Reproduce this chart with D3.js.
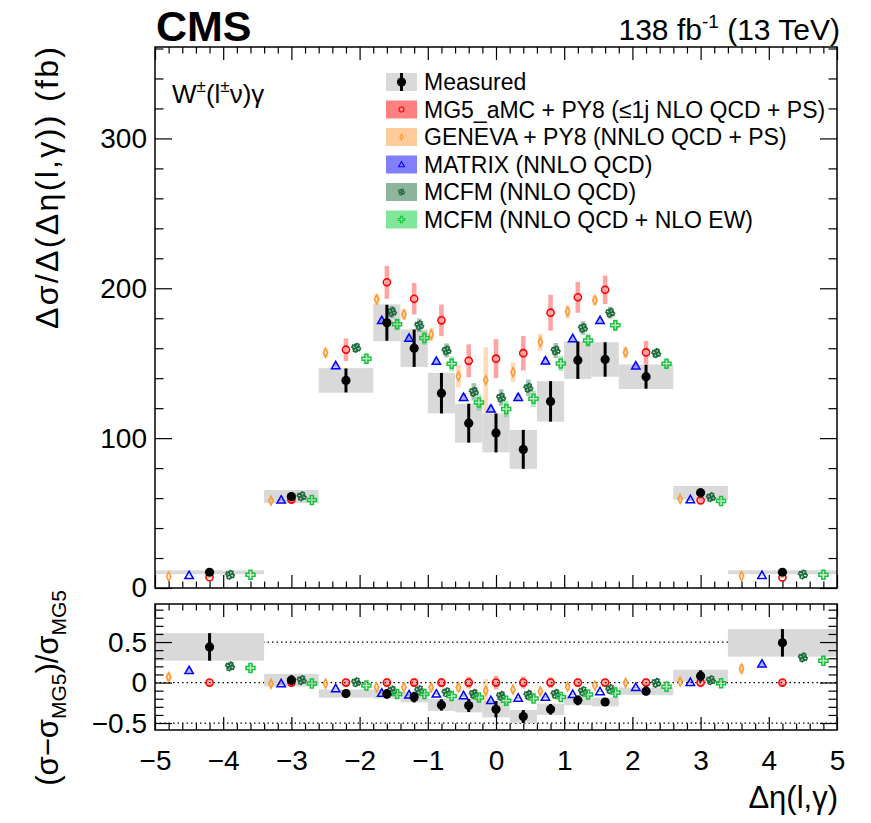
<!DOCTYPE html>
<html><head><meta charset="utf-8">
<script src="https://cdn.jsdelivr.net/npm/d3@7"></script>
<style>
body{margin:0;background:#fff}
text{font-family:"Liberation Sans",Arial,Helvetica,sans-serif;fill:#000}
</style>
</head><body><svg id="c" width="871" height="823"></svg>
<script>
// ---------------- data ----------------
const binEdges   = [-5, -3.4, -2.6, -1.8, -1.4, -1.0, -0.6, -0.2, 0.2, 0.6, 1.0, 1.4, 1.8, 2.6, 3.4, 5];
const binCenters = [-4.2, -3, -2.2, -1.6, -1.2, -0.8, -0.4, 0, 0.4, 0.8, 1.2, 1.6, 2.2, 3, 4.2];

// top panel: dsigma / d(deta) in fb
const measured    = [10.5, 61, 138.5, 177, 160, 130, 110, 103.5, 92.5, 124.5, 152, 152.5, 141, 63.5, 10.5];
const measuredErr = [1.3, 3, 8, 12, 12.5, 13.5, 13, 13, 13, 13.5, 12.5, 11.5, 8, 3, 1.3];
const measuredSys = [1.3, 4.4, 8.2, 12.3, 12.5, 13.5, 13, 13, 13, 13.5, 12.5, 11.5, 8.2, 4.6, 1.3];
const mg5      = [7.2, 59, 159, 204, 193, 178.6, 151.6, 153, 156.7, 183.7, 194, 199, 157.2, 58.5, 7.0];
const mg5Err   = [0.3, 1.5, 7.5, 11, 10.5, 10.5, 11, 13, 11.5, 12, 10.3, 9.5, 7.7, 1.5, 0.3];
const geneva   = [7.7, 58.3, 157, 192.6, 182.6, 169.2, 141.3, 138.7, 144, 164.1, 184.4, 192, 157.2, 59.4, 8.0];
const genevaErr= [0.4, 1, 3.2, 3.5, 3.5, 4.5, 7.5, 22, 6.5, 5.6, 4.5, 3.1, 3.7, 1, 0.4];
const matrix   = [8.4, 58.8, 148.5, 178.6, 166.8, 151.4, 127.3, 119.5, 127.3, 151.6, 166.5, 178.6, 148.3, 59, 8.5];
const matrixErr= [0.2, 0.8, 1.5, 2, 2, 2, 2.5, 2.5, 2.5, 2.5, 2, 1.8, 1.5, 0.8, 0.2];
const mcfm     = [8.8, 61.2, 160.3, 184.2, 175.3, 158.5, 130.9, 127.1, 133.6, 158.5, 173.5, 183.7, 156.7, 60.6, 9.0];
const mcfmErr  = [0.3, 1.5, 3, 4, 4.5, 4.7, 5.8, 5.5, 5.5, 5, 4.5, 4, 3, 1.5, 0.3];
const mcfmEW   = [8.8, 58.8, 153, 176, 166.8, 149.6, 123.7, 119.5, 126.2, 149.8, 165.2, 175.3, 149.6, 58, 8.9];
const mcfmEWErr= [0.3, 1.5, 3, 4, 4.5, 5, 5.5, 5.5, 5.5, 5, 4.5, 4, 3, 1.5, 0.3];

// ratio panel: (sigma - sigma_MG5) / sigma_MG5
const ratioMeasured    = [0.44, 0.03, -0.136, -0.14, -0.18, -0.276, -0.284, -0.33, -0.42, -0.33, -0.22, -0.24, -0.107, 0.082, 0.49];
const ratioMeasuredErr = [0.17, 0.06, 0.05, 0.06, 0.065, 0.07, 0.08, 0.1, 0.08, 0.065, 0.06, 0.05, 0.05, 0.07, 0.17];
const ratioMeasuredSys = [0.17, 0.078, 0.05, 0.057, 0.065, 0.075, 0.085, 0.1, 0.08, 0.07, 0.06, 0.055, 0.045, 0.076, 0.17];
const ratioMG5    = [0, 0, 0, 0, 0, 0, 0, 0, 0, 0, 0, 0, 0, 0, 0];
const ratioGeneva = [0.066, -0.016, -0.012, -0.058, -0.058, -0.062, -0.062, -0.1, -0.086, -0.11, -0.05, -0.037, -0.004, 0.012, 0.17];
const ratioMatrix = [0.15, -0.012, -0.074, -0.13, -0.15, -0.14, -0.16, -0.22, -0.19, -0.18, -0.144, -0.11, -0.058, 0.004, 0.23];
const ratioMcfm   = [0.2, 0.03, 0.004, -0.1, -0.095, -0.12, -0.14, -0.165, -0.152, -0.14, -0.107, -0.082, -0.004, 0.029, 0.31];
const ratioMcfmEW = [0.18, -0.012, -0.037, -0.14, -0.14, -0.165, -0.185, -0.226, -0.198, -0.18, -0.148, -0.123, -0.053, -0.008, 0.27];

const xTicks = [-5, -4, -3, -2, -1, 0, 1, 2, 3, 4, 5];
const yTopTicks = [0, 100, 200, 300];
const yRatioTicks = [-0.5, 0, 0.5];

const legendLabels = ["Measured", "MG5_aMC + PY8 (\u22641j NLO QCD + PS)", "GENEVA + PY8 (NNLO QCD + PS)",
  "MATRIX (NNLO QCD)", "MCFM (NNLO QCD)", "MCFM (NNLO QCD + NLO EW)"];

// ---------------- layout ----------------
const svg = d3.select("#c");
const L = 155, R = 837, T1 = 47, B1 = 588, T2 = 604, B2 = 730;
const x = d3.scaleLinear().domain([-5, 5]).range([L, R]);
const y1 = d3.scaleLinear().domain([0, 361]).range([B1, T1]);
const y2 = d3.scaleLinear().domain([-0.586, 0.97]).range([B2, T2]);

const series = [
  {key:"geneva", off:-0.375, col:"#ff9933", band:"rgba(255,153,51,0.35)", sw:"#ffcc99", shape:"diamond"},
  {key:"matrix", off:-0.1875, col:"#0000ff", band:"rgba(0,0,255,0.3)", sw:"#8080ff", shape:"triangle"},
  {key:"mg5", off:0, col:"#ff0000", band:"rgba(255,0,0,0.36)", sw:"#ff8080", shape:"circle"},
  {key:"mcfm", off:0.1875, col:"#1d6b3c", band:"rgba(29,107,60,0.4)", sw:"#8db59d", shape:"xstar"},
  {key:"mcfmEW", off:0.375, col:"#18c23c", band:"rgba(24,194,60,0.35)", sw:"#80e699", shape:"cross"}
];
const topData = {geneva:[geneva,genevaErr], matrix:[matrix,matrixErr], mg5:[mg5,mg5Err], mcfm:[mcfm,mcfmErr], mcfmEW:[mcfmEW,mcfmEWErr]};
const ratioData = {geneva:ratioGeneva, matrix:ratioMatrix, mg5:ratioMG5, mcfm:ratioMcfm, mcfmEW:ratioMcfmEW};

function markerPath(shape){
  switch(shape){
    case "circle": return d3.symbol(d3.symbolCircle, 40)();
    case "triangle": return "M0,-4.2L4.2,3.2L-4.2,3.2Z";
    case "diamond": return "M0,-4.5L2.2,0L0,4.5L-2.2,0Z";
    case "cross": return "M-1.5,-4.5H1.5V-1.5H4.5V1.5H1.5V4.5H-1.5V1.5H-4.5V-1.5H-1.5Z";
    case "xstar": return "M-1.3,-4.2L1.3,-4.2L1.3,-1.3L4.2,-1.3L4.2,1.3L1.3,1.3L1.3,4.2L-1.3,4.2L-1.3,1.3L-4.2,1.3L-4.2,-1.3L-1.3,-1.3Z M-3,-3L3,3M3,-3L-3,3";
  }
}
function drawMarker(g, shape, col, cx, cy){
  const p = g.append("path").attr("d", markerPath(shape)).attr("transform", `translate(${cx},${cy})`)
    .attr("fill","none").attr("stroke", col).attr("stroke-width", shape==="circle"?1.6:1.5);
  if(shape==="xstar") p.attr("transform", `translate(${cx},${cy}) rotate(22.5)`);
}

function drawPanel(g, yS, meas, mErr, mSys, getVal, getErr){
  const n = binCenters.length;
  for(let i=0;i<n;i++){
    g.append("rect").attr("x", x(binEdges[i])).attr("width", x(binEdges[i+1])-x(binEdges[i]))
      .attr("y", yS(meas[i]+mSys[i])).attr("height", yS(meas[i]-mSys[i])-yS(meas[i]+mSys[i]))
      .attr("fill","#d9d9d9");
  }
  series.forEach(s=>{
    for(let i=0;i<n;i++){
      const w = binEdges[i+1]-binEdges[i];
      const cx = x(binCenters[i] + s.off*w);
      const v = getVal(s.key,i), e = getErr(s.key,i);
      g.append("rect").attr("x", cx-2.3).attr("width",4.6)
        .attr("y", yS(v+e)).attr("height", Math.max(0, yS(v-e)-yS(v+e))).attr("fill", s.band);
    }
  });
  series.forEach(s=>{
    for(let i=0;i<n;i++){
      const w = binEdges[i+1]-binEdges[i];
      const cx = x(binCenters[i] + s.off*w);
      drawMarker(g, s.shape, s.col, cx, yS(getVal(s.key,i)));
    }
  });
  for(let i=0;i<n;i++){
    const cx = x(binCenters[i]);
    g.append("line").attr("x1",cx).attr("x2",cx).attr("y1",yS(meas[i]+mErr[i])).attr("y2",yS(meas[i]-mErr[i]))
      .attr("stroke","#000").attr("stroke-width",3);
    g.append("circle").attr("cx",cx).attr("cy",yS(meas[i])).attr("r",4.6).attr("fill","#000");
  }
}

svg.append("clipPath").attr("id","cp1").append("rect").attr("x",L).attr("y",T1).attr("width",R-L).attr("height",B1-T1);
svg.append("clipPath").attr("id","cp2").append("rect").attr("x",L).attr("y",T2).attr("width",R-L).attr("height",B2-T2);

const g1 = svg.append("g").attr("clip-path","url(#cp1)");
drawPanel(g1, y1, measured, measuredErr, measuredSys,
  (k,i)=>topData[k][0][i], (k,i)=>topData[k][1][i]);

const g2 = svg.append("g").attr("clip-path","url(#cp2)");
yRatioTicks.forEach(v=>{
  g2.append("line").attr("x1",L).attr("x2",R).attr("y1",y2(v)).attr("y2",y2(v))
    .attr("stroke","#000").attr("stroke-width",1.2).attr("stroke-dasharray","1.5,3");
});
drawPanel(g2, y2, ratioMeasured, ratioMeasuredErr, ratioMeasuredSys,
  (k,i)=>ratioData[k][i], (k,i)=>topData[k][1][i]/mg5[i]);

// ---------------- axes ----------------
const minorX = d3.range(-5, 5.001, 0.2).filter(v=>Math.abs(v-Math.round(v))>1e-6);
function styleAxis(g){ g.select(".domain").remove(); g.selectAll("line").attr("stroke","#000").attr("stroke-width",1.2); }

function xAxes(top, bottom, labels){
  svg.append("g").attr("transform",`translate(0,${bottom})`).call(d3.axisBottom(x).tickValues(xTicks).tickSize(-13).tickPadding(20)
     .tickFormat(labels? d3.format("") : ()=>"")).call(styleAxis)
     .selectAll("text").attr("font-size",28).attr("dy","0.71em");
  svg.append("g").attr("transform",`translate(0,${bottom})`).call(d3.axisBottom(x).tickValues(minorX).tickSize(-6.5).tickFormat(()=>"")).call(styleAxis);
  svg.append("g").attr("transform",`translate(0,${top})`).call(d3.axisTop(x).tickValues(xTicks).tickSize(-13).tickFormat(()=>"")).call(styleAxis);
  svg.append("g").attr("transform",`translate(0,${top})`).call(d3.axisTop(x).tickValues(minorX).tickSize(-6.5).tickFormat(()=>"")).call(styleAxis);
}
xAxes(T1, B1, false);
xAxes(T2, B2, true);

function yAxes(scale, major, minor, fmt, majLen, minLen){
  svg.append("g").attr("transform",`translate(${L},0)`).call(d3.axisLeft(scale).tickValues(major).tickSize(-majLen).tickPadding(8).tickFormat(fmt)).call(styleAxis)
    .selectAll("text").attr("font-size",28);
  svg.append("g").attr("transform",`translate(${L},0)`).call(d3.axisLeft(scale).tickValues(minor).tickSize(-minLen).tickFormat(()=>"")).call(styleAxis);
  svg.append("g").attr("transform",`translate(${R},0)`).call(d3.axisRight(scale).tickValues(major).tickSize(-majLen).tickFormat(()=>"")).call(styleAxis);
  svg.append("g").attr("transform",`translate(${R},0)`).call(d3.axisRight(scale).tickValues(minor).tickSize(-minLen).tickFormat(()=>"")).call(styleAxis);
}
yAxes(y1, yTopTicks, d3.range(20, 361, 20).filter(v=>v%100!==0), d3.format("d"), 17, 8.5);
yAxes(y2, yRatioTicks, d3.range(-0.5, 0.95, 0.1).filter(v=>Math.abs(v*2-Math.round(v*2))>1e-6),
      d=> d===0 ? "0" : d3.format(".1f")(d), 17, 8.5);

[[T1,B1],[T2,B2]].forEach(([t,b])=>{
  svg.append("rect").attr("x",L).attr("y",t).attr("width",R-L).attr("height",b-t)
    .attr("fill","none").attr("stroke","#000").attr("stroke-width",1.5);
});

// ---------------- texts ----------------
svg.append("text").attr("x",156).attr("y",41).attr("font-size",43).attr("font-weight","bold").text("CMS");
const lum = svg.append("text").attr("x",840).attr("y",40).attr("font-size",30).attr("text-anchor","end");
lum.append("tspan").text("138 fb");
lum.append("tspan").attr("font-size",19).attr("dy",-12).text("-1");
lum.append("tspan").attr("dy",12).text(" (13 TeV)");

const wl = svg.append("text").attr("x",172).attr("y",103).attr("font-size",26);
wl.append("tspan").text("W");
wl.append("tspan").attr("font-size",17).attr("dy",-11).text("\u00b1");
wl.append("tspan").attr("dy",11).text("(l");
wl.append("tspan").attr("font-size",17).attr("dy",-11).text("\u00b1");
wl.append("tspan").attr("dy",11).text("\u03bd)\u03b3");

svg.append("text").attr("transform","translate(58,47) rotate(-90)").attr("text-anchor","end").attr("font-size",32)
  .attr("textLength",282).attr("lengthAdjust","spacing")
  .text("\u0394\u03c3/\u0394(\u0394\u03b7(l,\u03b3)) (fb)");
const rt = svg.append("text").attr("transform","translate(58,590) rotate(-90)").attr("text-anchor","end").attr("font-size",31);
rt.append("tspan").text("(\u03c3\u2212\u03c3");
rt.append("tspan").attr("font-size",21).attr("dy",8).text("MG5");
rt.append("tspan").attr("dy",-8).text(")/\u03c3");
rt.append("tspan").attr("font-size",21).attr("dy",8).text("MG5");

svg.append("text").attr("x",838).attr("y",808).attr("text-anchor","end").attr("font-size",31)
  .text("\u0394\u03b7(l,\u03b3)");

// ---------------- legend ----------------
const lg = svg.append("g");
const legX = 386, legY0 = 82, legDY = 27.5;
const legKeys = ["", "mg5", "geneva", "matrix", "mcfm", "mcfmEW"];
legendLabels.forEach((lab,i)=>{
  const cy = legY0 + i*legDY;
  const s = series.find(d=>d.key===legKeys[i]);
  lg.append("rect").attr("x",legX).attr("y",cy-9).attr("width",31).attr("height",18).attr("fill", i===0 ? "#d9d9d9" : s.sw);
  if(i===0){
    lg.append("line").attr("x1",legX+15.5).attr("x2",legX+15.5).attr("y1",cy-9).attr("y2",cy+9).attr("stroke","#000").attr("stroke-width",3);
    lg.append("circle").attr("cx",legX+15.5).attr("cy",cy).attr("r",4.6).attr("fill","#000");
  } else {
    const mg = lg.append("g").attr("transform",`translate(${legX+15.5},${cy}) scale(0.7)`);
    drawMarker(mg, s.shape, s.col, 0, 0);
  }
  lg.append("text").attr("x",424).attr("y",cy).attr("dy","0.36em").attr("font-size",23).text(lab);
});
</script>
</body></html>
